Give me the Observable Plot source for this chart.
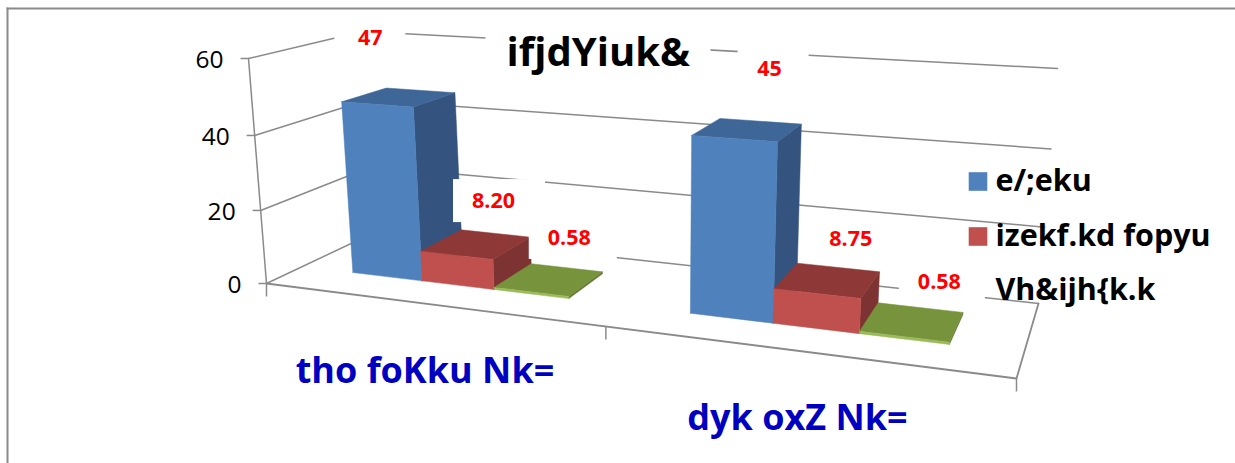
<!DOCTYPE html>
<html>
<head>
<meta charset="utf-8">
<script src="https://cdn.jsdelivr.net/npm/d3@7"></script>
<script src="https://cdn.jsdelivr.net/npm/@observablehq/plot@0.6"></script>
<style>html,body{margin:0;padding:0;background:#fff}svg{display:block}</style>
</head>
<body>
<div id="chart"></div>
<script>
// ---- data ----
const title = "ifjdYiuk&";
const categories = ["tho foKku Nk=", "dyk oxZ Nk="];
const seriesNames = ["e/;eku", "izekf.kd fopyu", "Vh&ijh{k.k"];
const meanValues = [47, 45];
const sdValues = [8.20, 8.75];
const tValues = [0.58, 0.58];
const valueLabels = ["47", "45", "8.20", "8.75", "0.58", "0.58"];
const yTicks = [0, 20, 40, 60];
const yMax = 60;

// ---- style ----
const font = "'Open Sans', sans-serif";
const gridColor = "#8a8a8a";
const faces = [
  {front: "#4f81bd", side: "#34547f", top: "#3e6696"},
  {front: "#c0504d", side: "#7d3331", top: "#8e3937"},
  {front: "#9bbb59", side: "#5f7530", top: "#77933c"}
];

// ---- the 3-D box of the chart, seen in perspective (wall corners on screen) ----
const floorQuad = [[266, 283], [1016, 378], [1038, 303], [376, 231]];
const topQuad = [[248, 58], [1035, 107], [1057, 68], [362, 31]];
function homography(q) {
  const [[x0, y0], [x1, y1], [x2, y2], [x3, y3]] = q;
  const dx1 = x1 - x2, dx2 = x3 - x2, sx = x0 - x1 + x2 - x3;
  const dy1 = y1 - y2, dy2 = y3 - y2, sy = y0 - y1 + y2 - y3;
  const den = dx1 * dy2 - dx2 * dy1;
  const g = (sx * dy2 - dx2 * sy) / den, h = (dx1 * sy - sx * dy1) / den;
  const a = x1 - x0 + g * x1, b = x3 - x0 + h * x3, d = y1 - y0 + g * y1, e = y3 - y0 + h * y3;
  return (u, v) => {
    const w = g * u + h * v + 1;
    return [(a * u + b * v + x0) / w, (d * u + e * v + y0) / w];
  };
}
const floorH = homography(floorQuad), topH = homography(topQuad);
// u: along the categories, v: depth, value: height
function project(u, v, value) {
  const w = value / yMax, t = w / (1 + 0.04 * (1 - w));
  const p = floorH(u, v), q = topH(u, v);
  return [p[0] + (q[0] - p[0]) * t, p[1] + (q[1] - p[1]) * t];
}

// bar footprint inside each category band
const groupInset = 0.0825, barWidth = 0.110, depth0 = 0.30, depth1 = 0.715;
const rows = [];
categories.forEach((c, ci) => {
  [meanValues, sdValues, tValues].forEach((vals, si) => {
    rows.push({ci, si, value: vals[ci],
      u0: ci * 0.5 + groupInset + si * barWidth,
      u1: ci * 0.5 + groupInset + (si + 1) * barWidth});
  });
});

const polys = [];
function addPoly(pts, fill) {
  const id = polys.length ? polys[polys.length - 1].id + 1 : 0;
  [...pts, pts[0]].forEach(p => polys.push({id, x: p[0], y: p[1], fill}));
}
rows.forEach(r => {
  const f = faces[r.si];
  addPoly([project(r.u1, depth0, 0), project(r.u1, depth1, 0), project(r.u1, depth1, r.value), project(r.u1, depth0, r.value)], f.side);
  addPoly([project(r.u0, depth0, r.value), project(r.u1, depth0, r.value), project(r.u1, depth1, r.value), project(r.u0, depth1, r.value)], f.top);
  addPoly([project(r.u0, depth0, 0), project(r.u1, depth0, 0), project(r.u1, depth0, r.value), project(r.u0, depth0, r.value)], f.front);
});

// gridlines: left wall then back wall
const grid = yTicks.flatMap(t => [[0, 0, t], [0, 1, t], [1, 1, t]].map(([u, v, val]) => {
  const p = project(u, v, val);
  return {t, x: p[0], y: p[1]};
}));
const floorEdge = [[1, 1], [1, 0], [0, 0]].map(([u, v]) => project(u, v, 0));
const yAxisLine = [project(0, 0, 0), project(0, 0, yMax)];

// value labels, placed relative to the centre of each bar's top
const labelOffsets = [[-29, -59], [22, -61], [17, -43], [23, -41], [20, -41], [27, -40]];
const labelBoxes = [[71, 42, 0], [71, 42, 4], [92, 43, 6], [0, 0, 0], [88, 42, 4], [86, 42, 3]];
const order = [0, 3, 1, 4, 2, 5];
const labels = order.map((ri, i) => {
  const r = rows[ri];
  const c = project((r.u0 + r.u1) / 2, (depth0 + depth1) / 2, r.value);
  return {text: valueLabels[i], x: c[0] + labelOffsets[i][0], y: c[1] + labelOffsets[i][1],
    bw: labelBoxes[i][0], bh: labelBoxes[i][1], bs: labelBoxes[i][2]};
});

const catAnchors = categories.map((c, i) => {
  const p = project(0.25 + i * 0.5, 0, 0);
  return {text: c, x: p[0], y: p[1]};
});
const yLabelData = yTicks.map(t => {
  const p = project(0, 0, t);
  return {text: String(t), x: p[0], y: p[1]};
});
const yTickMarks = yTicks.map(t => {
  const p = project(0, 0, t);
  return {x1: p[0] - 8, x2: p[0], y: p[1]};
});
const xTickMarks = [0, 0.5, 1].map(u => {
  const p = project(u, 0, 0);
  return {x: p[0], y1: p[1], y2: p[1] + 13};
});
const titleBox = {cx: 598, cy: 50, w: 225, h: 56};

const chart = Plot.plot({
  width: 1235, height: 463,
  marginTop: 0, marginRight: 0, marginBottom: 0, marginLeft: 0,
  x: {domain: [0, 1235], range: [0, 1235], axis: null},
  y: {domain: [0, 463], range: [0, 463], axis: null},
  style: {background: "#fff", fontFamily: font},
  marks: [
    Plot.frame({anchor: "left", insetLeft: 7, insetTop: 8, stroke: "#8a8a8a", strokeWidth: 2}),
    Plot.frame({anchor: "top", insetTop: 8, insetLeft: 7, stroke: "#8a8a8a", strokeWidth: 2}),
    Plot.line(grid, {x: "x", y: "y", z: "t", stroke: gridColor, strokeWidth: 1.5}),
    Plot.line(floorEdge, {x: d => d[0], y: d => d[1], stroke: gridColor, strokeWidth: 1.8}),
    Plot.line(yAxisLine, {x: d => d[0], y: d => d[1], stroke: gridColor, strokeWidth: 1.5}),
    Plot.link(yTickMarks, {x1: "x1", x2: "x2", y1: "y", y2: "y", stroke: gridColor, strokeWidth: 1.5}),
    Plot.link(xTickMarks, {x1: "x", x2: "x", y1: "y1", y2: "y2", stroke: gridColor, strokeWidth: 1.5}),
    Plot.line(polys, {x: "x", y: "y", z: "id", fill: "fill", stroke: "fill", strokeWidth: 0.5}),
    // white boxes behind labels and title
    Plot.rect(labels.filter(d => d.bw), {
      x1: d => d.x + d.bs - d.bw / 2, x2: d => d.x + d.bs + d.bw / 2,
      y1: d => d.y - d.bh / 2, y2: d => d.y + d.bh / 2, fill: "#fff"}),
    Plot.rect([titleBox], {
      x1: d => d.cx - d.w / 2, x2: d => d.cx + d.w / 2,
      y1: d => d.cy - d.h / 2, y2: d => d.cy + d.h / 2, fill: "#fff"}),
    Plot.text(labels, {x: "x", y: "y", text: "text", fill: "#ff0000", fontSize: 21.5, fontWeight: 700, fontFamily: font}),
    Plot.text(yLabelData, {x: "x", y: "y", text: "text", dx: -25, dy: 2, textAnchor: "end", fill: "#000", fontSize: 24.5, fontFamily: font}),
    Plot.text(catAnchors, {x: "x", y: "y", text: "text", dx: -3.5, dy: 67, fill: "#0000c0", fontSize: 36, fontWeight: 700, fontFamily: font}),
    Plot.text([title], {frameAnchor: "top-left", dx: 506, dy: 53, textAnchor: "start", lineAnchor: "middle", fill: "#000", fontSize: 40, fontWeight: 700, fontFamily: font}),
    // legend
    ...seriesNames.slice(0, 2).map((s, i) => Plot.dot([s], {frameAnchor: "top-left", dx: 977.5, dy: 181 + 55 * i, symbol: "square", r: 10.5, fill: faces[i].front})),
    ...seriesNames.map((s, i) => Plot.text([s], {frameAnchor: "top-left", dx: 995, dy: [181, 236, 290][i], textAnchor: "start", lineAnchor: "middle", fill: "#000", fontSize: 30.5, fontWeight: 700, fontFamily: font}))
  ]
});
document.getElementById("chart").append(chart);
</script>
</body>
</html>
